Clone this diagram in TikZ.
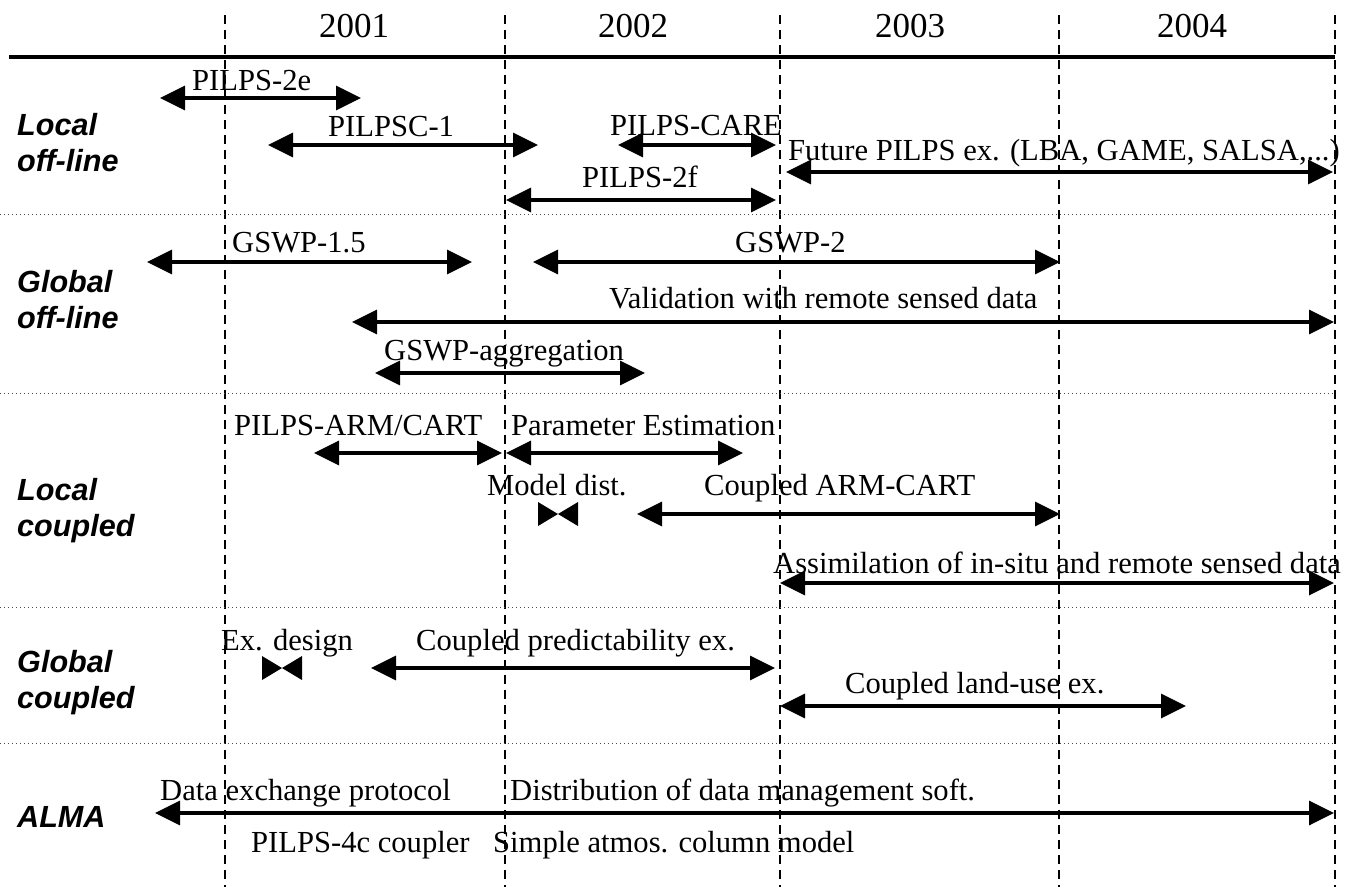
\documentclass[tikz,border=0pt]{standalone}
\usepackage{fontspec}
\setmainfont{Liberation Serif}
\newfontfamily\rowfont{Liberation Sans}
\usetikzlibrary{arrows.meta}
\tikzset{
 lbl/.style={anchor=base west, inner sep=0pt, font=\fontsize{30.6pt}{31pt}\selectfont},
 yr/.style={anchor=base west, inner sep=0pt, font=\fontsize{35pt}{36pt}\selectfont},
 rowlbl/.style={anchor=base west, inner sep=0pt, font=\rowfont\bfseries\itshape\fontsize{30.6pt}{31pt}\selectfont},
 bar/.style={line width=3.5pt, {Triangle[length=25pt,width=24pt]}-{Triangle[length=25pt,width=24pt]}},
 yearline/.style={line width=1.2pt, dash pattern=on 9pt off 6pt},
 sepline/.style={line width=1pt, black!70, dash pattern=on 1pt off 3pt},
 axisline/.style={line width=4pt},
 bowtie/.style={fill=black}
}
\begin{document}
\begin{tikzpicture}[x=1pt,y=-1pt]
\useasboundingbox (0,0) rectangle (1352,887);
% year boundaries
\foreach \x/\n in {225/a,505/b,780/c,1059/d,1335/e}{
  \coordinate (top\n) at (\x,15);
  \coordinate (bot\n) at (\x,887);
  \draw[yearline] (top\n) -- (bot\n);
}
% axis
\coordinate (axL) at (9,57);
\coordinate (axR) at (1335,57);
\draw[axisline] (axL) -- (axR);
% separators
\foreach \y/\n in {214/1,393/2,607/3,743/4}{
  \coordinate (sepL\n) at (0,\y);
  \coordinate (sepR\n) at (1335,\y);
  \draw[sepline] (sepL\n) -- (sepR\n);
}
% years
\node[yr] (y2001) at (319,37) {2001};
\node[yr] (y2002) at (598,37) {2002};
\node[yr] (y2003) at (875,37) {2003};
\node[yr] (y2004) at (1157,37) {2004};
% row labels
\node[rowlbl] (r1a) at (17,135) {Local};
\node[rowlbl] (r1b) at (17,171) {off-line};
\node[rowlbl] (r2a) at (17,292) {Global};
\node[rowlbl] (r2b) at (17,328) {off-line};
\node[rowlbl] (r3a) at (17,500) {Local};
\node[rowlbl] (r3b) at (17,536) {coupled};
\node[rowlbl] (r4a) at (17,672) {Global};
\node[rowlbl] (r4b) at (17,708) {coupled};
\node[rowlbl] (r5a) at (17,827) {ALMA};
% ---- Local off-line
\node[lbl] (l2e) at (192,90) {PILPS-2e};
\coordinate (a2eL) at (160,98); \coordinate (a2eR) at (361,98);
\draw[bar] (a2eL) -- (a2eR);
\node[lbl] (lc1) at (328,136) {PILPSC-1};
\coordinate (ac1L) at (268,145); \coordinate (ac1R) at (538,145);
\draw[bar] (ac1L) -- (ac1R);
\node[lbl] (lcare) at (610,135) {PILPS-CARE};
\coordinate (acareL) at (618,145); \coordinate (acareR) at (776,145);
\draw[bar] (acareL) -- (acareR);
\node[lbl] (lfut) at (788,160) {Future PILPS ex. (LBA, GAME, SALSA,...)};
\coordinate (afutL) at (786,172); \coordinate (afutR) at (1333,172);
\draw[bar] (afutL) -- (afutR);
\node[lbl] (l2f) at (582,187) {PILPS-2f};
\coordinate (a2fL) at (506,200); \coordinate (a2fR) at (776,200);
\draw[bar] (a2fL) -- (a2fR);
% ---- Global off-line
\node[lbl] (lg15) at (232,252) {GSWP-1.5};
\coordinate (ag15L) at (147,262); \coordinate (ag15R) at (472,262);
\draw[bar] (ag15L) -- (ag15R);
\node[lbl] (lg2) at (735,252) {GSWP-2};
\coordinate (ag2L) at (533,262); \coordinate (ag2R) at (1060,262);
\draw[bar] (ag2L) -- (ag2R);
\node[lbl] (lval) at (609,308) {Validation with remote sensed data};
\coordinate (avalL) at (352,322); \coordinate (avalR) at (1334,322);
\draw[bar] (avalL) -- (avalR);
\node[lbl] (lagg) at (384,360) {GSWP-aggregation};
\coordinate (aaggL) at (375,373); \coordinate (aaggR) at (645,373);
\draw[bar] (aaggL) -- (aaggR);
% ---- Local coupled
\node[lbl] (larm) at (234,435) {PILPS-ARM/CART};
\coordinate (aarmL) at (314,453); \coordinate (aarmR) at (502,453);
\draw[bar] (aarmL) -- (aarmR);
\node[lbl] (lpar) at (511,435) {Parameter Estimation};
\coordinate (aparL) at (506,453); \coordinate (aparR) at (743,453);
\draw[bar] (aparL) -- (aparR);
\node[lbl] (lmod) at (487,495) {Model dist.};
\coordinate (bmod) at (558,514);
\fill[bowtie] ([xshift=-20pt,yshift=-12pt]bmod) -- (bmod) -- ([xshift=-20pt,yshift=12pt]bmod) -- cycle;
\fill[bowtie] ([xshift=20pt,yshift=-12pt]bmod) -- (bmod) -- ([xshift=20pt,yshift=12pt]bmod) -- cycle;
\node[lbl] (lcac) at (704,495) {Coupled ARM-CART};
\coordinate (acacL) at (637,514); \coordinate (acacR) at (1060,514);
\draw[bar] (acacL) -- (acacR);
\node[lbl] (lass) at (773,573) {Assimilation of in-situ and remote sensed data};
\coordinate (aassL) at (780,583); \coordinate (aassR) at (1334,583);
\draw[bar] (aassL) -- (aassR);
% ---- Global coupled
\node[lbl] (ldes) at (221,650) {Ex. design};
\coordinate (bdes) at (282,668);
\fill[bowtie] ([xshift=-20pt,yshift=-12pt]bdes) -- (bdes) -- ([xshift=-20pt,yshift=12pt]bdes) -- cycle;
\fill[bowtie] ([xshift=20pt,yshift=-12pt]bdes) -- (bdes) -- ([xshift=20pt,yshift=12pt]bdes) -- cycle;
\node[lbl] (lcpe) at (416,650) {Coupled predictability ex.};
\coordinate (acpeL) at (371,668); \coordinate (acpeR) at (775,668);
\draw[bar] (acpeL) -- (acpeR);
\node[lbl] (llu) at (845,693) {Coupled land-use ex.};
\coordinate (aluL) at (780,706); \coordinate (aluR) at (1186,706);
\draw[bar] (aluL) -- (aluR);
% ---- ALMA
\node[lbl] (ldxp) at (160,800) {Data exchange protocol};
\node[lbl] (ldist) at (510,800) {Distribution of data management soft.};
\coordinate (aalL) at (155,813); \coordinate (aalR) at (1334,813);
\draw[bar] (aalL) -- (aalR);
\node[lbl] (lcpl) at (251,852) {PILPS-4c coupler};
\node[lbl] (lsac) at (493,852) {Simple atmos. column model};
\end{tikzpicture}
\end{document}
